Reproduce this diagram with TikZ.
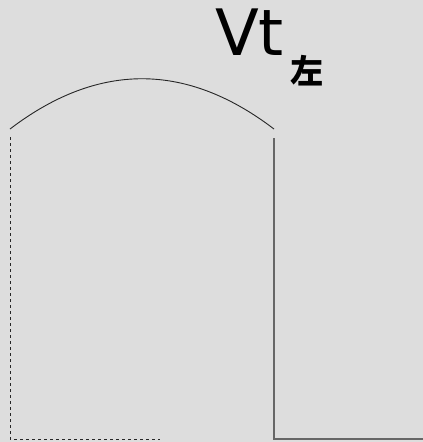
\documentclass[tikz,border=0pt]{standalone}
\usepackage{fontspec}
\setmainfont{DejaVu Sans}
\newfontfamily\cjkfont{Noto Sans CJK SC}
\usetikzlibrary{positioning}
\definecolor{bggray}{HTML}{DDDDDD}
\tikzset{
  wave/.style={black!85,line width=0.9pt},
  guide/.style={black!85,line width=0.9pt,dash pattern=on 3pt off 3pt},
  pulse/.style={black!60,line width=1.3pt},
}
\begin{document}
\begin{tikzpicture}[x=1pt,y=-1pt]
\fill[bggray] (0,0) rectangle (423,442);
\useasboundingbox (0,0) rectangle (423,442);
\node[anchor=base west,inner sep=0pt,font=\fontsize{64}{64}\selectfont](vt)at(215,55){Vt};
\node[anchor=base west,inner sep=0pt,font=\cjkfont\bfseries\fontsize{33}{33}\selectfont](left)at(290,83){左};
% arc and guides
\coordinate (a1) at (10,129);
\coordinate (a2) at (274,129);
\draw[wave] (a1) .. controls (98,62) and (186,62) .. (a2);
\draw[guide] (10,137) -- (10,439) -- (160,439);
\draw[pulse] (274,138) -- (274,439) -- (423,439);
\end{tikzpicture}
\end{document}
